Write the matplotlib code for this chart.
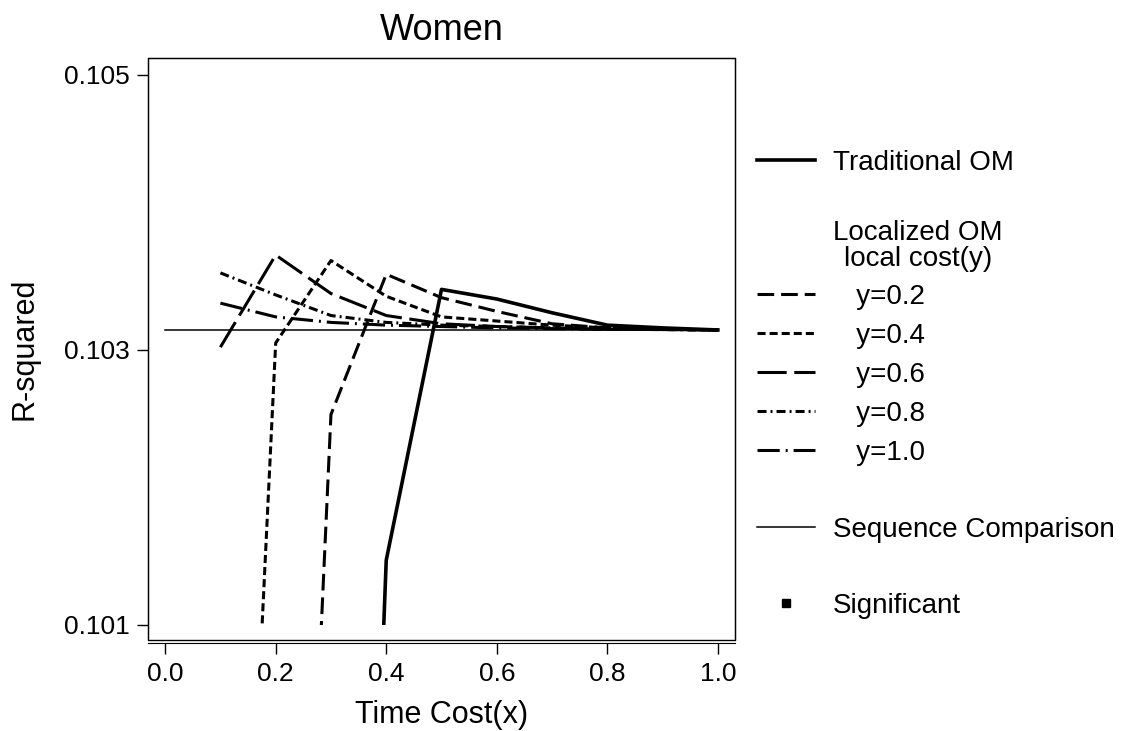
import matplotlib
matplotlib.use('Agg')
import matplotlib.pyplot as plt
from matplotlib.patches import Rectangle
from matplotlib.lines import Line2D
from matplotlib.ticker import FormatStrFormatter

plt.rcParams['font.family'] = ['Liberation Sans', 'DejaVu Sans']
plt.rcParams['lines.scale_dashes'] = False

# values (R-squared against time cost x)
time_cost = [0.1, 0.2, 0.3, 0.4, 0.5, 0.6, 0.7, 0.8, 0.9, 1.0]

seq_x = [0.0, 1.0]
seq_r2 = [0.103145, 0.103145]

trad_x = [0.3, 0.4, 0.5, 0.6, 0.7, 0.8, 0.9, 1.0]
trad_r2 = [0.0909, 0.10147, 0.10344, 0.10337, 0.10327, 0.10318, 0.10316, 0.103145]

y02_x = [0.2, 0.3, 0.4, 0.5, 0.6, 0.7, 0.8, 0.9, 1.0]
y02_r2 = [0.0937, 0.10253, 0.10355, 0.10338, 0.10328, 0.10319, 0.10316, 0.103150, 0.103145]
y04_r2 = [0.0947, 0.10305, 0.10365, 0.10339, 0.10324, 0.10321, 0.10318, 0.10316, 0.103150, 0.103145]
y06_r2 = [0.10302, 0.10369, 0.10341, 0.10325, 0.10319, 0.10317, 0.10316, 0.103150, 0.103148, 0.103145]
y08_r2 = [0.10356, 0.10340, 0.10325, 0.10320, 0.10318, 0.10317, 0.10316, 0.103150, 0.103148, 0.103145]
y10_r2 = [0.10334, 0.10324, 0.10320, 0.10318, 0.10317, 0.10316, 0.103155, 0.103150, 0.103148, 0.103145]

local_labels = ['y=0.2', 'y=0.4', 'y=0.6', 'y=0.8', 'y=1.0']

W, H = 1122, 731
fig = plt.figure(figsize=(W / 100, H / 100), dpi=100)
ax = fig.add_axes([148 / W, 1 - 640 / H, (735 - 148) / W, (640 - 58) / H])

ax.set_xlim(-0.031, 1.031)
ax.set_ylim(0.10089, 0.105123)

# lines are cut at the lowest tick, like in the original graph
x0, x1 = ax.get_xlim()
clip = Rectangle((x0, 0.101), x1 - x0, 0.01, transform=ax.transData)

lw = 2.2
seq_line, = ax.plot(seq_x, seq_r2, color='black', lw=1.1)
trad_line, = ax.plot(trad_x, trad_r2, color='black', lw=2.6)
l02, = ax.plot(y02_x, y02_r2, color='black', lw=lw, ls=(0, (12, 5)))
l04, = ax.plot(time_cost, y04_r2, color='black', lw=lw, ls=(0, (5.8, 2.9)))
l06, = ax.plot(time_cost, y06_r2, color='black', lw=lw, ls=(0, (21, 5.5)))
l08, = ax.plot(time_cost, y08_r2, color='black', lw=lw, ls=(0, (6.5, 2.9, 1.4, 2.9)))
l10, = ax.plot(time_cost, y10_r2, color='black', lw=lw, ls=(0, (16, 4.3, 1.4, 4.3)))
for ln in [seq_line, trad_line, l02, l04, l06, l08, l10]:
    ln.set_clip_path(clip)

# frame + separate x axis line below it
ax.patch.set_edgecolor('black')
ax.patch.set_linewidth(1.0)
ax.spines['bottom'].set_position(('outward', 2))

ax.set_xticks([0.0, 0.2, 0.4, 0.6, 0.8, 1.0])
ax.set_yticks([0.101, 0.103, 0.105])
ax.xaxis.set_major_formatter(FormatStrFormatter('%.1f'))
ax.yaxis.set_major_formatter(FormatStrFormatter('%.3f'))
ax.tick_params(axis='both', direction='out', length=8, width=1, labelsize=19, colors='black')
ax.tick_params(axis='x', pad=6)
ax.tick_params(axis='y', pad=5)

ax.set_xlabel('Time Cost(x)', fontsize=22, labelpad=10)
ax.set_ylabel('R-squared', fontsize=22)
ax.yaxis.set_label_coords((40 - 148) / 587, 0.5)
ax.set_title('Women', fontsize=26, pad=13)

# legend, in blocks
lx = 757 / W
common = dict(loc='center left', frameon=False, fontsize=20, handlelength=2.09,
              handletextpad=0.65, borderpad=0, borderaxespad=0)
fig.legend([trad_line], ['Traditional OM'], bbox_to_anchor=(lx, 1 - 163 / H), **common)
fig.text(918 / W, 1 - 246 / H, 'Localized OM\nlocal cost(y)', ha='center', va='center',
         multialignment='center', fontsize=20, linespacing=1.05)
fig.legend([l02, l04, l06, l08, l10], ['   ' + s for s in local_labels],
           bbox_to_anchor=(lx, 1 - 375 / H), labelspacing=0.47, **common)
fig.legend([seq_line], ['Sequence Comparison'], bbox_to_anchor=(lx, 1 - 530 / H), **common)
sig = Line2D([], [], ls='none', marker='s', ms=6, color='black')
fig.legend([sig], ['Significant'], bbox_to_anchor=(lx, 1 - 606 / H), **common)

fig.savefig('out.png', dpi=100)
